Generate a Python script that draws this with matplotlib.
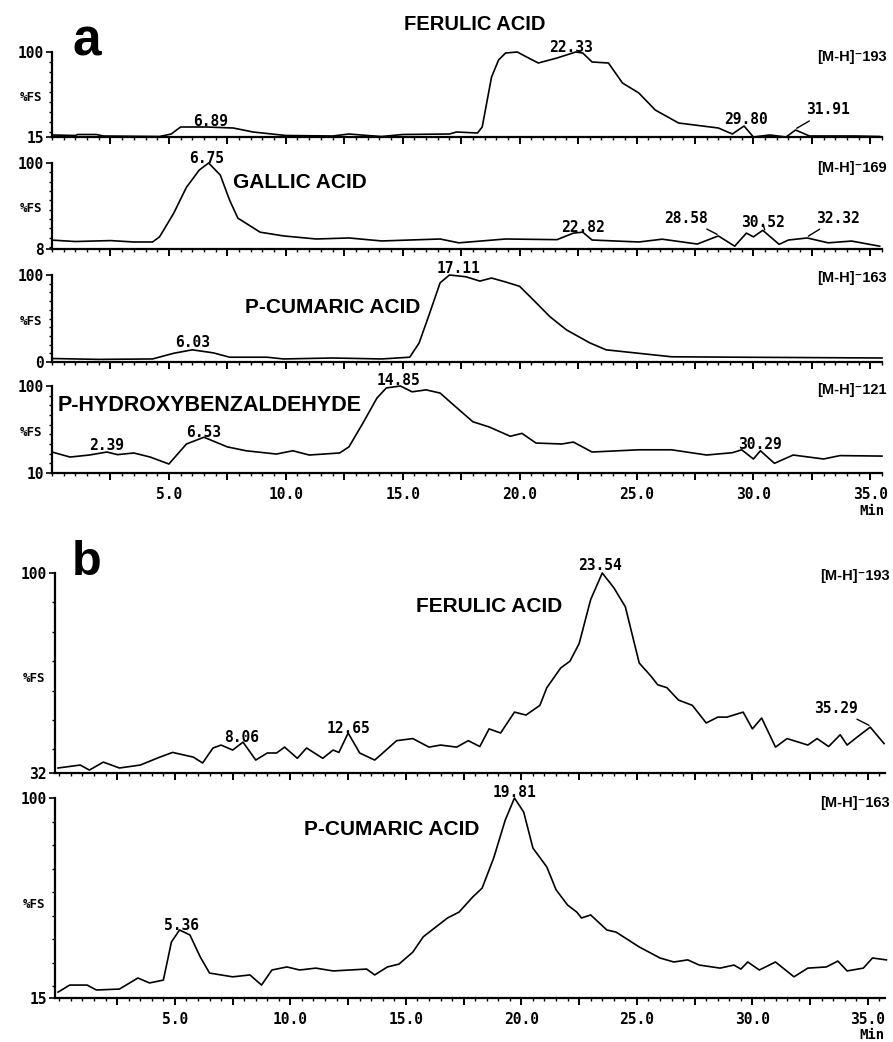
import matplotlib
matplotlib.use('Agg')
import matplotlib.pyplot as plt

# ---- data (time in min, %FS) ----
fer_a_t = [0, 1.0, 1.1, 1.9, 2.2, 4.6, 5.1, 5.5, 6.6, 7.75, 8.6, 10.0, 12.0, 12.7, 13.5, 14.1, 15.0,
           17.0, 17.3, 18.2, 18.4, 18.8, 19.1, 19.4, 19.9, 20.3, 20.8, 21.6, 22.4, 22.7, 23.1, 23.8,
           24.4, 25.1, 25.8, 26.8, 28.5, 29.1, 29.6, 30.0, 30.7, 31.4, 31.8, 32.4, 34.4, 35.4]
fer_a_y = [17, 16.5, 17.5, 17.5, 16, 15.5, 18, 25, 25, 24, 20, 16.5, 16, 18, 16.5, 15.5, 17.5,
           18, 20, 19, 25, 75, 92, 99, 100, 95, 89, 94, 100, 99, 90, 89,
           69, 59, 42, 29, 24, 18, 26, 15, 17, 15, 22, 16, 16, 15.5]

gal_t = [0, 1.0, 2.5, 3.5, 4.3, 4.6, 5.2, 5.75, 6.3, 6.7, 7.2, 7.6, 7.95, 8.9, 9.9, 11.3, 12.7,
         14.1, 16.6, 17.4, 19.4, 21.6, 22.3, 22.7, 23.1, 25.1, 26.1, 27.6, 28.5, 29.2, 29.7, 30.0,
         30.4, 31.1, 31.5, 32.3, 33.2, 34.2, 35.4]
gal_y = [17.5, 16, 17, 15.5, 15.5, 21, 46, 74, 92.5, 100, 87, 60, 41, 26, 22, 18.7, 19.8,
         16.6, 18.7, 14.6, 18.7, 18, 25, 26, 17.6, 15.5, 18.5, 13.3, 22, 11, 25, 21,
         28, 13, 17.6, 19.8, 14.6, 16.5, 11]

cum_a_t = [0, 2.0, 4.3, 5.2, 6.0, 6.9, 7.6, 9.2, 9.9, 12.0, 14.1, 15.3, 15.7, 16.1, 16.6, 17.0,
           17.7, 18.3, 18.8, 19.4, 20.0, 20.6, 21.3, 22.0, 23.0, 23.7, 25.1, 26.5, 29.4, 35.5]
cum_a_y = [4, 3, 3.5, 10, 14, 10.5, 5.5, 5.5, 3.5, 4.6, 3.5, 5.5, 21.8, 52, 91, 100,
           98, 93, 96.5, 92, 87, 71, 52, 37, 22, 14, 10, 6, 5.5, 4.6]

hyd_t = [0, 0.77, 1.6, 2.35, 2.8, 3.5, 4.2, 5.0, 5.75, 6.5, 7.5, 8.3, 9.6, 10.3, 11.0, 12.3,
         12.7, 13.3, 13.9, 14.3, 14.9, 15.4, 16.0, 16.6, 17.1, 18.0, 18.7, 19.6, 20.1, 20.7,
         21.8, 22.3, 23.1, 25.1, 26.5, 28.0, 29.1, 29.5, 30.0, 30.3, 30.9, 31.7, 33.0, 33.7, 35.5]
hyd_y = [31.7, 26.5, 28.6, 31.7, 29, 30.7, 26.5, 19.3, 40, 47, 37, 33, 29.6, 33, 28.6, 30.7,
         37, 61.7, 87.6, 98, 100, 94, 96, 92.7, 82, 63, 57.6, 48, 51, 41,
         40, 42, 31.7, 34, 34, 28.6, 31, 34, 24.5, 33, 20, 28.6, 24.5, 28, 27.5]

fer_b_t = [-0.06, 0.9, 1.3, 1.9, 2.6, 3.5, 4.35, 4.9, 5.8, 6.2, 6.65, 7.0, 7.5, 7.95, 8.5, 9.0,
           9.4, 9.75, 10.3, 10.7, 11.4, 11.85, 12.1, 12.5, 13.0, 13.65, 14.0, 14.6, 15.3, 16.0,
           16.5, 17.2, 17.7, 18.2, 18.6, 19.1, 19.7, 20.2, 20.8, 21.1, 21.7, 22.1, 22.5, 23.0,
           23.5, 24.0, 24.5, 25.1, 25.6, 25.9, 26.3, 26.8, 27.4, 28.0, 28.5, 28.9, 29.6, 30.0,
           30.4, 31.0, 31.5, 32.4, 32.8, 33.3, 33.8, 34.1, 34.5, 35.1, 35.7]
fer_b_y = [33.7, 34.7, 33, 35.7, 33.7, 34.7, 37.4, 39, 37.4, 35.4, 40.5, 41.5, 39.8, 42.5, 36.4, 38.8,
           38.8, 40.8, 37, 40.5, 37, 39.8, 39, 45.6, 38.8, 36.4, 38.8, 43, 43.7, 40.8,
           41.5, 40.8, 43, 41, 47, 45.6, 52.7, 51.7, 55, 61, 67.7, 70, 76, 91,
           100, 95, 88.5, 69.4, 65, 62, 61, 56.8, 55, 49, 51, 51, 52.7, 47,
           50.7, 40.8, 43.7, 41.5, 43.7, 41, 45, 41.5, 44, 47.6, 42]

cum_b_t = [-0.06, 0.45, 1.2, 1.6, 2.6, 3.4, 3.9, 4.5, 4.85, 5.2, 5.65, 6.1, 6.5, 7.5, 8.25, 8.75,
           9.2, 9.85, 10.4, 11.1, 11.85, 13.3, 13.65, 14.2, 14.7, 15.3, 15.75, 16.3, 16.8, 17.3,
           17.9, 18.3, 18.8, 19.3, 19.7, 20.1, 20.5, 21.1, 21.5, 22.0, 22.4, 22.6, 23.0, 23.7,
           24.1, 25.1, 26.0, 26.6, 27.2, 27.7, 28.6, 29.2, 29.5, 29.8, 30.3, 31.0, 31.8, 32.4,
           33.2, 33.7, 34.1, 34.8, 35.2, 35.8]
cum_b_y = [17.5, 20.5, 20.5, 18.4, 18.8, 23.5, 21.4, 22.6, 38.8, 43.9, 41.8, 32.4, 25.6, 24, 24.8, 20.5,
           26.9, 28.2, 26.9, 27.7, 26.5, 27.3, 24.8, 28.2, 29.4, 34.5, 41, 45.2, 49, 51.5,
           58, 61.7, 74.5, 90.6, 100, 94, 78.7, 70.7, 61, 54.5, 51.5, 49, 50.3, 43.9,
           43, 36.7, 32, 30.3, 31.2, 29, 27.7, 29, 27.3, 30.3, 26.9, 30.3, 24, 27.7,
           28.2, 30.7, 26.5, 27.7, 32, 31.2]

y_min = [15, 8, 0, 10, 32, 15]
ions = ['193', '169', '163', '121', '193', '163']
names = ['FERULIC ACID', 'GALLIC ACID', 'P-CUMARIC ACID', 'P-HYDROXYBENZALDEHYDE',
         'FERULIC ACID', 'P-CUMARIC ACID']
tick_vals = [5, 10, 15, 20, 25, 30, 35]
tick_labels = ['5.0', '10.0', '15.0', '20.0', '25.0', '30.0', '35.0']

# peak labels: (text, x, y), and ones with a leader line (text, peak x, peak y, text x, text y)
peaks = [
    [('6.89', 6.8, 30), ('22.33', 22.2, 104), ('29.80', 29.7, 32)],
    [('6.75', 6.6, 105), ('22.82', 22.7, 31)],
    [('6.03', 6.0, 22), ('17.11', 17.4, 107)],
    [('2.39', 2.35, 38), ('6.53', 6.5, 52), ('14.85', 14.8, 106), ('30.29', 30.3, 39)],
    [('8.06', 7.9, 44), ('12.65', 12.5, 47), ('23.54', 23.4, 102.5)],
    [('5.36', 5.3, 46), ('19.81', 19.7, 102.5)],
]
leaders = [
    [('31.91', 31.8, 23, 33.2, 42)],
    [('28.58', 28.5, 23, 27.1, 41), ('30.52', 30.5, 27, 30.4, 36), ('32.32', 32.3, 21, 33.6, 41)],
    [], [],
    [('35.29', 35.1, 48, 33.6, 54)],
    [],
]

MONO = 'DejaVu Sans Mono'
SANS = ['Liberation Sans', 'DejaVu Sans']
W, H = 893, 1042

fig = plt.figure(figsize=(W / 100, H / 100), dpi=100)

# axes boxes in pixels: left, right, top, bottom
boxes = [(52, 882, 52, 137), (52, 882, 163, 249), (52, 882, 275, 362), (52, 882, 386, 473),
         (55, 885, 573, 773), (55, 885, 798, 998)]
xlims = [(0, 35.47)] * 4 + [(-0.19, 35.74)] * 2
traces = [(fer_a_t, fer_a_y), (gal_t, gal_y), (cum_a_t, cum_a_y), (hyd_t, hyd_y),
          (fer_b_t, fer_b_y), (cum_b_t, cum_b_y)]
# where each compound name goes (x in min, y in %FS) and its size
name_pos = [(18.1, 127, 14.5), (10.6, 79, 15), (12.0, 63, 15), (6.75, 80, 15.5),
            (18.6, 88.5, 15), (14.4, 86.5, 15)]
ion_y = [0.94, 0.94, 0.96, 0.95, 0.985, 0.975]

for i in range(6):
    l, r, t, b = boxes[i]
    ax = fig.add_axes([l / W, 1 - b / H, (r - l) / W, (b - t) / H])
    x, y = traces[i]
    ax.plot(x, y, color='black', lw=1.2, clip_on=False)
    ax.set_xlim(*xlims[i])
    ax.set_ylim(y_min[i], 100)
    for s in ['top', 'right']:
        ax.spines[s].set_visible(False)
    for s in ['left', 'bottom']:
        ax.spines[s].set_linewidth(1.6)

    # x ticks
    ax.set_xticks([v * 2.5 for v in range(1, 15)])
    ax.set_xticks([v * 0.5 for v in range(0, 72)], minor=True)
    if i in (3, 5):
        lab = []
        for v in range(1, 15):
            val = v * 2.5
            lab.append(tick_labels[tick_vals.index(int(val))] if val in tick_vals else '')
        ax.set_xticklabels(lab, fontfamily=MONO, fontweight='bold', fontsize=10.5)
    else:
        ax.set_xticklabels([])
    ax.tick_params(axis='x', which='major', direction='out', length=5, width=1.4, pad=5)
    ax.tick_params(axis='x', which='minor', direction='out', length=2.5, width=1)

    # y ticks
    ax.set_yticks([y_min[i], 100])
    ax.set_yticklabels([str(y_min[i]), '100'], fontfamily=MONO, fontweight='bold', fontsize=10.5)
    ax.set_yticks(list(range((y_min[i] // 10 + 1) * 10, 100, 10)), minor=True)
    ax.tick_params(axis='y', which='major', direction='out', length=4, width=1.2, pad=2)
    ax.tick_params(axis='y', which='minor', direction='out', length=2.5, width=1)

    ax.text(-0.012, 0.47, '%FS', transform=ax.transAxes, ha='right', va='center',
            fontfamily=MONO, fontweight='bold', fontsize=9)
    ax.text(1.006, ion_y[i], '[M-H]\u207b' + ions[i], transform=ax.transAxes, ha='right',
            va='center', fontfamily=SANS, fontweight='bold', fontsize=10.5)

    nx, ny, ns = name_pos[i]
    ax.text(nx, ny, names[i], ha='center', va='center', fontfamily=SANS,
            fontweight='bold', fontsize=ns)

    for txt, px, py in peaks[i]:
        ax.text(px, py, txt, ha='center', va='center', fontfamily=MONO,
                fontweight='bold', fontsize=10.5)
    for txt, px, py, tx, ty in leaders[i]:
        ax.annotate(txt, xy=(px, py), xytext=(tx, ty), ha='center', va='center',
                    fontfamily=MONO, fontweight='bold', fontsize=10.5,
                    arrowprops=dict(arrowstyle='-', lw=1, color='black',
                                    shrinkA=1, shrinkB=1))

fig.text(72 / W, 1 - 55 / H, 'a', fontfamily=SANS, fontweight='bold', fontsize=37,
         va='baseline', ha='left')
fig.text(72 / W, 1 - 575 / H, 'b', fontfamily=SANS, fontweight='bold', fontsize=35,
         va='baseline', ha='left')
fig.text(885 / W, 1 - 511 / H, 'Min', fontfamily=MONO, fontweight='bold', fontsize=10,
         ha='right', va='center')
fig.text(885 / W, 1 - 1035 / H, 'Min', fontfamily=MONO, fontweight='bold', fontsize=10,
         ha='right', va='center')

fig.savefig('out.png', dpi=100)
